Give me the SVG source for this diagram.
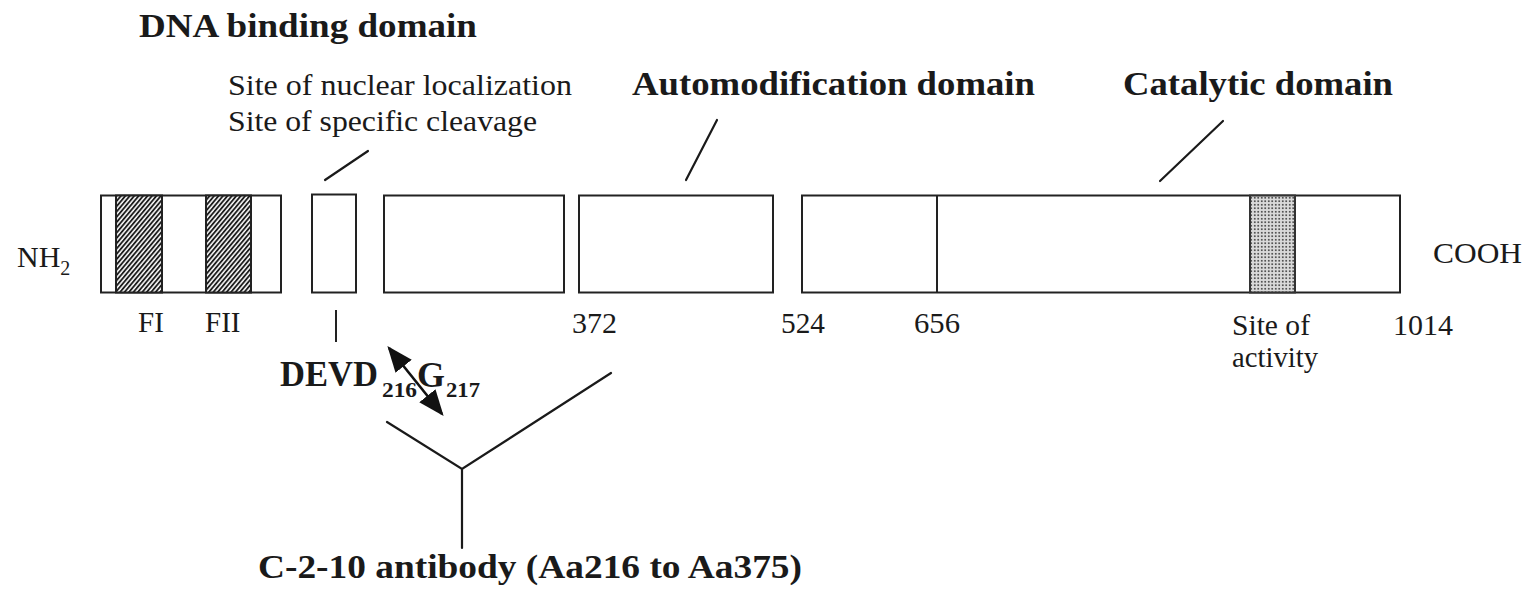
<svg xmlns="http://www.w3.org/2000/svg" width="1530" height="592" viewBox="0 0 1530 592">
<style>
  .box { fill: #fff; stroke: #222; stroke-width: 2; }
  .ln { stroke: #1a1a1a; stroke-width: 2.2; fill: none; stroke-linecap: round; }
  .t { font-family: "Liberation Serif", "Times New Roman", serif; fill: #1a1a1a; }
  .b { font-weight: bold; }
  .r { font-size: 29px; }
  .h { font-size: 34px; }
</style>
<defs>
  <pattern id="hatch" patternUnits="userSpaceOnUse" width="3.4" height="10" patternTransform="rotate(40)">
    <rect width="3.4" height="10" fill="#fff"/>
    <line x1="1" y1="0" x2="1" y2="10" stroke="#111" stroke-width="1.8"/>
  </pattern>
  <pattern id="dots" patternUnits="userSpaceOnUse" width="3.5" height="3.5">
    <rect width="3.5" height="3.5" fill="#dadada"/>
    <circle cx="1.75" cy="1.75" r="0.95" fill="#333"/>
  </pattern>
  <marker id="ah" viewBox="0 0 10 8" refX="9" refY="4" markerWidth="10" markerHeight="8" markerUnits="strokeWidth" orient="auto-start-reverse">
    <path d="M0,0 L10,4 L0,8 z" fill="#111"/>
  </marker>
</defs>
<rect width="1530" height="592" fill="#fff"/>

<g id="title-dna">
  <text class="t b h" x="139" y="37" textLength="338" lengthAdjust="spacingAndGlyphs">DNA binding domain</text>
</g>
<g id="title-nls">
  <text class="t" font-size="29" x="228" y="95" textLength="344" lengthAdjust="spacingAndGlyphs">Site of nuclear localization</text>
  <text class="t" font-size="29" x="228" y="131" textLength="309" lengthAdjust="spacingAndGlyphs">Site of specific cleavage</text>
</g>
<g id="title-auto">
  <text class="t b h" x="632" y="95" textLength="403" lengthAdjust="spacingAndGlyphs">Automodification domain</text>
</g>
<g id="title-cat">
  <text class="t b h" x="1123" y="95" textLength="270" lengthAdjust="spacingAndGlyphs">Catalytic domain</text>
</g>

<g id="nh2">
  <text class="t" font-size="30" x="17" y="267">NH<tspan font-size="20" dy="8">2</tspan></text>
</g>
<g id="cooh">
  <text class="t" font-size="29" x="1433" y="263" textLength="89" lengthAdjust="spacingAndGlyphs">COOH</text>
</g>

<g id="box-dna">
  <rect class="box" x="101" y="195.5" width="180" height="97"/>
  <rect x="116" y="195.5" width="46" height="97" fill="url(#hatch)" stroke="#222" stroke-width="2"/>
  <rect x="206" y="195.5" width="45" height="97" fill="url(#hatch)" stroke="#222" stroke-width="2"/>
  <text class="t r" x="138" y="332">FI</text>
  <text class="t r" x="205" y="332">FII</text>
</g>
<g id="box-nls">
  <rect class="box" x="312" y="194.5" width="44" height="98"/>
</g>
<g id="box-3">
  <rect class="box" x="384" y="195.5" width="180" height="97"/>
</g>
<g id="box-auto">
  <rect class="box" x="579" y="195.5" width="194" height="97"/>
  <text class="t r" x="572" y="333" textLength="45" lengthAdjust="spacingAndGlyphs">372</text>
  <text class="t r" x="781" y="333" textLength="44" lengthAdjust="spacingAndGlyphs">524</text>
</g>
<g id="box-cat">
  <rect class="box" x="802" y="195.5" width="598" height="97"/>
  <line x1="937" y1="195.5" x2="937" y2="292.5" stroke="#222" stroke-width="2"/>
  <rect x="1250" y="195.5" width="45" height="97" fill="url(#dots)" stroke="#333" stroke-width="2"/>
  <text class="t r" x="914" y="333" textLength="46" lengthAdjust="spacingAndGlyphs">656</text>
  <text class="t r" x="1232" y="335" textLength="78" lengthAdjust="spacingAndGlyphs">Site of</text>
  <text class="t r" x="1232" y="367" textLength="86" lengthAdjust="spacingAndGlyphs">activity</text>
  <text class="t r" x="1393" y="335" textLength="60" lengthAdjust="spacingAndGlyphs">1014</text>
</g>

<g id="cleavage">
  <text class="t b" font-size="35" x="280" y="386" textLength="98" lengthAdjust="spacingAndGlyphs">DEVD</text>
  <text class="t b" font-size="22" x="382" y="397" textLength="35" lengthAdjust="spacingAndGlyphs">216</text>
  <text class="t b" font-size="35" x="417" y="387" textLength="28" lengthAdjust="spacingAndGlyphs">G</text>
  <text class="t b" font-size="22" x="446" y="397" textLength="34" lengthAdjust="spacingAndGlyphs">217</text>
</g>

<g id="antibody">
  <text class="t b h" x="258" y="578" textLength="544" lengthAdjust="spacingAndGlyphs">C-2-10 antibody (Aa216 to Aa375)</text>
</g>

<g id="connectors">
  <line class="ln" x1="325" y1="180" x2="368" y2="151"/>
  <line class="ln" x1="686" y1="180" x2="717" y2="120"/>
  <line class="ln" x1="1160" y1="181" x2="1223" y2="121"/>
  <line x1="336" y1="310" x2="336" y2="342" stroke="#222" stroke-width="2"/>
  <line x1="389" y1="348" x2="442" y2="414" stroke="#111" stroke-width="2.6" marker-start="url(#ah)" marker-end="url(#ah)"/>
  <polyline class="ln" points="387,422 462,469 611,373"/>
  <line class="ln" x1="462" y1="469" x2="462" y2="548"/>
</g>
</svg>
